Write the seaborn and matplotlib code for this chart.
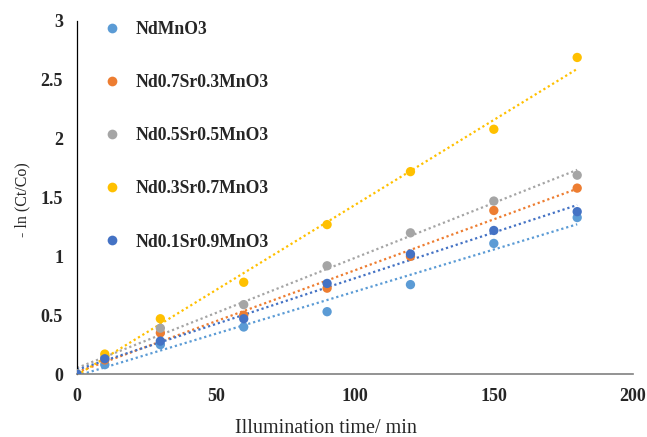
import numpy as np
import pandas as pd
import matplotlib
matplotlib.use('Agg')
import matplotlib.pyplot as plt
import seaborn as sns

# Data
time_min = [0, 10, 30, 60, 90, 120, 150, 180]
samples = ['NdMnO3', 'Nd0.7Sr0.3MnO3', 'Nd0.5Sr0.5MnO3', 'Nd0.3Sr0.7MnO3', 'Nd0.1Sr0.9MnO3']
nd_mno3 = [0, 0.08, 0.25, 0.40, 0.53, 0.76, 1.11, 1.33]
nd07_sr03 = [0, 0.12, 0.35, 0.50, 0.73, 1.00, 1.39, 1.58]
nd05_sr05 = [0, 0.14, 0.39, 0.59, 0.92, 1.20, 1.47, 1.69]
nd03_sr07 = [0, 0.17, 0.47, 0.78, 1.27, 1.72, 2.08, 2.69]
nd01_sr09 = [0, 0.13, 0.28, 0.47, 0.77, 1.02, 1.22, 1.38]
colors = ['#5B9BD5', '#ED7D31', '#A5A5A5', '#FFC000', '#4472C4']

series = [nd_mno3, nd07_sr03, nd05_sr05, nd03_sr07, nd01_sr09]
df = pd.DataFrame({
    'time': time_min * len(samples),
    'value': sum(series, []),
    'sample': [s for s in samples for _ in time_min],
})

sns.set_style('white')
plt.rcParams['font.family'] = ['Liberation Serif', 'DejaVu Serif']

fig = plt.figure(figsize=(6.47, 4.37), dpi=100)
ax = fig.add_axes([0.119, 0.144, 0.859, 0.808])

# linear trendlines (dotted), drawn first so markers sit on top
for vals, c in zip(series, colors):
    slope, icpt = np.polyfit(time_min, vals, 1)
    xs = np.array([0, 180])
    ax.plot(xs, slope * xs + icpt, linestyle=(0, (1, 1.3)), color=c, lw=1.6, zorder=2)

sns.scatterplot(data=df, x='time', y='value', hue='sample', hue_order=samples,
                palette=colors, s=45, edgecolor='none', ax=ax, zorder=3, legend=False)

ax.set_xlim(0, 200)
ax.set_ylim(0, 3)
ax.set_xticks([0, 50, 100, 150, 200])
ax.set_yticks([0, 0.5, 1, 1.5, 2, 2.5, 3])
ax.set_yticklabels(['0', '0.5', '1', '1.5', '2', '2.5', '3'])
ax.tick_params(length=0, labelsize=13, pad=10)
for lab in ax.get_xticklabels() + ax.get_yticklabels():
    lab.set_fontweight('bold')

ax.set_xlabel('Illumination time/ min', fontsize=14.5)
ax.xaxis.set_label_coords(0.448, -0.128)
ax.set_ylabel('- ln (Ct/Co)', fontsize=11.5, va='center')
ax.yaxis.set_label_coords(-0.099, 0.493)

for side in ['top', 'right']:
    ax.spines[side].set_visible(False)
ax.spines['left'].set_color('#000000')
ax.spines['left'].set_linewidth(0.9)
ax.spines['bottom'].set_color('#808080')
ax.spines['bottom'].set_linewidth(1.2)

handles = [plt.Line2D([], [], marker='o', linestyle='', color=c, markersize=7, markeredgewidth=0)
           for c in colors]
ax.legend(handles, samples, loc='upper left', bbox_to_anchor=(0.018, 1.045), frameon=False,
          prop={'weight': 'bold', 'size': 12.7}, labelspacing=2.05, handletextpad=0.85,
          handlelength=1.0)

fig.savefig('out.png', dpi=100)
